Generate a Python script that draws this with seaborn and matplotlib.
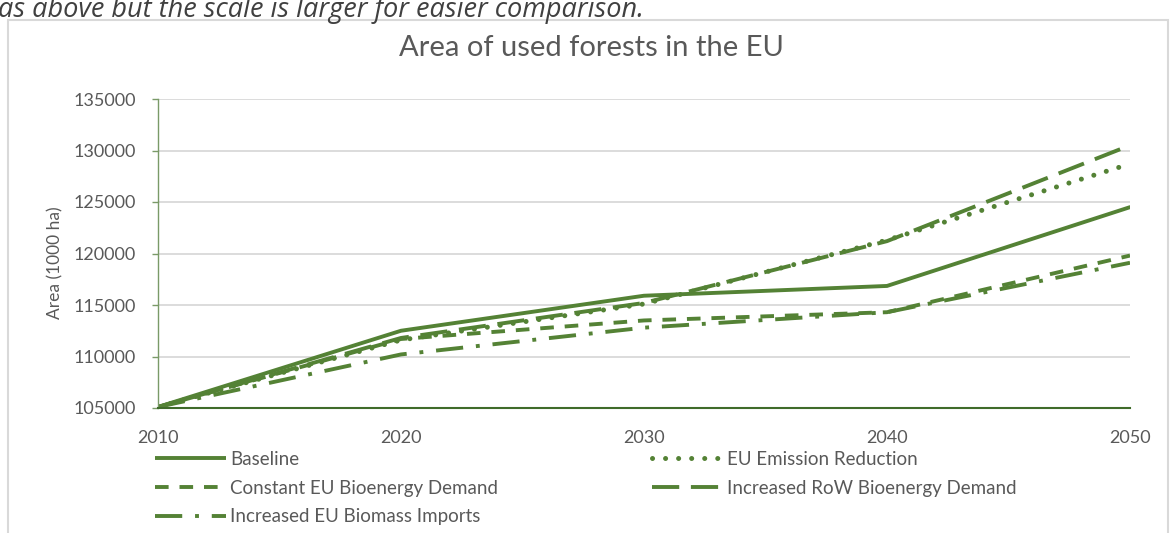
import numpy as np
import pandas as pd
import matplotlib
matplotlib.use('Agg')
import matplotlib.pyplot as plt
from matplotlib.lines import Line2D
from matplotlib.patches import Rectangle
import seaborn as sns

years = [2010, 2020, 2030, 2040, 2050]
baseline = [105100, 112500, 115900, 116850, 124500]
eu_emission = [105100, 111600, 115100, 121300, 128700]
constant_eu = [105100, 111700, 113500, 114300, 119800]
row_demand = [105100, 111800, 115200, 121200, 130500]
eu_imports = [105100, 110200, 112800, 114300, 119100]

scenarios = ['Baseline', 'EU Emission Reduction', 'Constant EU Bioenergy Demand',
             'Increased RoW Bioenergy Demand', 'Increased EU Biomass Imports']
values = [baseline, eu_emission, constant_eu, row_demand, eu_imports]

green = '#548235'
grey_txt = '#595959'

df = pd.concat([pd.DataFrame({'year': years, 'area': v, 'scenario': s})
                for s, v in zip(scenarios, values)], ignore_index=True)

dashes = {
    'Baseline': '',
    'EU Emission Reduction': (0.01, 2.6),
    'Constant EU Bioenergy Demand': (3.5, 2.8),
    'Increased RoW Bioenergy Demand': (7, 3),
    'Increased EU Biomass Imports': (7, 3.3, 1, 3.3),
}

sns.set_theme(style='white')
plt.rcParams['font.family'] = ['Lato', 'DejaVu Sans']

fig = plt.figure(figsize=(11.76, 5.33), dpi=100)
ax = fig.add_axes([158/1176, 1 - 408/533, (1130-158)/1176, (408-99)/533])

sns.lineplot(data=df, x='year', y='area', hue='scenario', style='scenario',
             palette={s: green for s in scenarios}, dashes=dashes,
             linewidth=2.8, legend=False, ax=ax)
for line in ax.lines:
    line.set_solid_capstyle('round')
# dotted scenario: bigger round dots
ax.lines[1].set_dash_capstyle('round')
ax.lines[1].set_linewidth(3.6)

ax.set_xlim(2010, 2050)
ax.set_ylim(105000, 135000)
ax.set_xticks(years)
ax.set_yticks(np.arange(105000, 135001, 5000))
ax.grid(axis='y', color='#d9d9d9', lw=1.3)
ax.set_axisbelow(True)
ax.set_xlabel('')
ax.set_ylabel('')
for side in ['top', 'right']:
    ax.spines[side].set_visible(False)
ax.spines['left'].set_color('#7a9a68')
ax.spines['left'].set_linewidth(1.0)
ax.spines['bottom'].set_color('#3f6b2a')
ax.spines['bottom'].set_linewidth(1.5)
ax.tick_params(axis='y', left=True, length=4, width=1, color='#7a9a68',
               labelsize=13, labelcolor=grey_txt, pad=12)
ax.tick_params(axis='x', bottom=False, labelsize=13, labelcolor=grey_txt, pad=10)

fig.text(55/1176, 1 - 263/533, 'Area (1000 ha)', rotation=90, ha='center',
         va='center', fontsize=12.5, color=grey_txt)
fig.text(0.503, 1 - 48/533, 'Area of used forests in the EU', ha='center',
         va='center', fontsize=21, color=grey_txt)
fig.text(-0.002, 1 - 17/533, 'as above but the scale is larger for easier comparison.',
         ha='left', va='baseline', fontsize=19.5, style='italic', color='#404040',
         family=['Open Sans', 'DejaVu Sans'])
fig.patches.append(Rectangle((8/1176, -0.1), (1168-8)/1176, (533-20)/533 + 0.1,
                             transform=fig.transFigure, fill=False,
                             edgecolor='#d9d9d9', lw=1.5))

def handle(name):
    lw = 3.6 if name == 'EU Emission Reduction' else 2.8
    h = Line2D([], [], color=green, lw=lw, solid_capstyle='butt')
    d = dashes[name]
    if d:
        h.set_dashes(d)
    if name == 'EU Emission Reduction':
        h.set_dash_capstyle('round')
    return h

col1 = ['Baseline', 'Constant EU Bioenergy Demand', 'Increased EU Biomass Imports']
col2 = ['EU Emission Reduction', 'Increased RoW Bioenergy Demand']
for names, x0 in [(col1, 155), (col2, 652)]:
    fig.legend([handle(n) for n in names], names, loc='upper left',
               bbox_to_anchor=(x0/1176, 1 - 451/533), frameon=False,
               borderpad=0, borderaxespad=0, handlelength=3.8,
               handletextpad=0.2, labelspacing=0.62, fontsize=13.5,
               labelcolor=grey_txt)

fig.savefig('out.png', dpi=100)
